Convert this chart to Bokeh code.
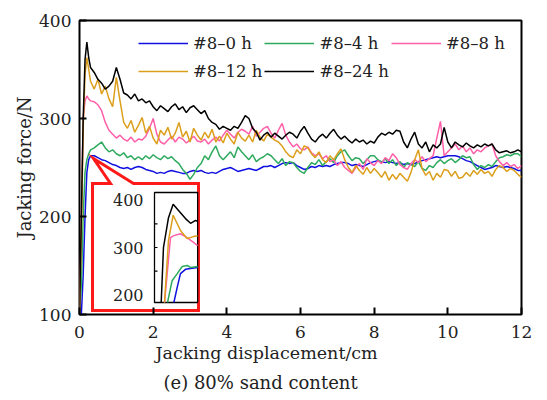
from bokeh.plotting import figure
from bokeh.models import Range1d, Legend, LegendItem, Title, FixedTicker
from bokeh.embed import file_html
from bokeh.resources import INLINE

# ---------------- data ----------------
x_disp = [0.0, 0.05, 0.1, 0.15, 0.2, 0.25, 0.3] + [round(0.4 + 0.1 * i, 1) for i in range(117)]

force_0h = [100, 100, 140, 200, 245, 258, 262,
            262, 260, 258, 257, 255, 253, 252,
            250, 249, 250, 248, 250, 251, 250, 248, 247, 246,
            244, 245, 244, 246, 247, 246, 245, 244, 244, 246,
            247, 246, 247, 245, 244, 245, 244, 246, 248, 249,
            250, 248, 246, 247, 248, 249, 248, 247, 249, 251,
            251, 252, 250, 252, 254, 255, 254, 255, 252, 250,
            248, 249, 251, 250, 252, 251, 252, 251, 253, 254,
            255, 255, 254, 252, 253, 252, 251, 253, 255, 256,
            257, 256, 255, 256, 255, 254, 255, 253, 254, 253,
            254, 256, 257, 258, 259, 260, 261, 260, 261, 262,
            262, 262, 261, 259, 257, 256, 254, 252, 250, 248,
            249, 250, 252, 251, 250, 251, 250, 249, 247, 247]

force_4h = [100, 130, 200, 245, 258, 264, 268,
            270, 273, 276, 270, 266, 268, 264,
            262, 265, 260, 262, 258, 261, 258, 262, 259, 263,
            260, 258, 262, 259, 261, 257, 254, 248, 244, 238,
            243, 250, 254, 262, 258, 266, 272, 262, 258, 262,
            266, 260, 271, 266, 262, 258, 263, 256, 259, 261,
            264, 262, 258, 254, 259, 252, 256, 255, 250, 246,
            244, 250, 255, 253, 258, 252, 256, 259, 255, 262,
            266, 268, 262, 257, 260, 259, 254, 258, 262, 262,
            258, 255, 259, 254, 258, 252, 256, 250, 255, 253,
            251, 256, 249, 247, 252, 250, 255, 258, 254, 257,
            259, 255, 258, 262, 260, 261, 253, 248, 252, 250,
            253, 251, 256, 260, 261, 263, 262, 264, 264, 261]

force_8h = [100, 200, 300, 318, 323, 320, 318,
            317, 314, 308, 296, 288, 284, 280,
            283, 279, 277, 281, 276, 279, 278, 282, 290, 300,
            284, 276, 274, 278, 282, 276, 281, 279, 275, 278,
            282, 277, 276, 279, 274, 278, 281, 277, 283, 288,
            284, 280, 286, 289, 287, 284, 292, 282, 286, 290,
            292, 285, 280, 288, 295, 283, 276, 271, 274, 269,
            268, 271, 265, 262, 264, 259, 262, 256, 258, 252,
            256, 250, 247, 244, 250, 254, 248, 259, 255, 252,
            257, 254, 260, 257, 264, 260, 253, 250, 248, 254,
            258, 255, 261, 256, 259, 262, 280, 297, 262, 266,
            270, 274, 268, 272, 266, 270, 264, 268, 266, 270,
            272, 274, 262, 256, 252, 255, 251, 253, 249, 252]

force_12h = [100, 180, 290, 345, 362, 350, 338,
             330, 340, 325, 333, 320, 312, 342,
             318, 296, 290, 298, 286, 293, 301, 285, 292, 280,
             274, 288, 283, 291, 279, 285, 296, 281, 287, 276,
             290, 283, 278, 286, 280, 289, 276, 282, 275, 285,
             279, 274, 286, 280, 277, 283, 276, 288, 281, 277,
             284, 281, 278, 276, 272, 266, 262, 260, 268, 264,
             272, 270, 264, 260, 266, 258, 255, 262, 258, 264,
             269, 258, 250, 245, 252, 247, 243, 250, 244, 249,
             245, 240, 246, 237, 243, 238, 244, 240, 236, 245,
             258, 268, 249, 242, 246, 237, 244, 240, 248, 247,
             241, 246, 239, 240, 245, 241, 247, 243, 248, 244,
             246, 241, 248, 252, 250, 246, 249, 247, 243, 240]

force_24h = [100, 200, 300, 360, 378, 362, 352,
             347, 340, 336, 330, 333, 338, 352,
             340, 326, 324, 320, 325, 318, 320, 316, 318, 312,
             308, 313, 310, 307, 312, 315, 309, 312, 306, 311,
             313, 309, 305, 308, 300, 296, 294, 289, 292, 290,
             288, 292, 290, 296, 303, 300, 290, 286, 278, 283,
             286, 281, 285, 282, 279, 283, 286, 284, 280, 287,
             292, 285, 279, 276, 281, 284, 280, 285, 289, 283,
             279, 282, 278, 275, 279, 276, 278, 274, 277, 275,
             281, 285, 283, 286, 284, 288, 287, 276, 270, 279,
             286, 274, 270, 276, 266, 273, 270, 274, 291, 276,
             270, 276, 273, 271, 275, 272, 270, 273, 271, 274,
             272, 274, 268, 265, 266, 267, 265, 266, 268, 266]

# inset (zoom of the first 0.5 cm)
ins_0h_x = [0.22, 0.258, 0.295, 0.352, 0.428, 0.49]
ins_0h_y = [184, 216, 245, 254, 256, 258]
ins_4h_x = [0.148, 0.2, 0.258, 0.315, 0.37, 0.41, 0.49]
ins_4h_y = [184, 230, 245, 260, 262, 258, 260]
ins_8h_x = [0.114, 0.182, 0.22, 0.295, 0.37, 0.443, 0.49]
ins_8h_y = [184, 321, 325, 329, 321, 311, 304]
ins_12h_x = [0.114, 0.159, 0.212, 0.295, 0.37, 0.443, 0.49]
ins_12h_y = [184, 315, 368, 336, 319, 323, 325]
ins_24h_x = [0.076, 0.102, 0.159, 0.212, 0.273, 0.352, 0.41, 0.466, 0.49]
ins_24h_y = [184, 300, 363, 391, 378, 361, 351, 357, 355]

labels = ["#8\u20130 h", "#8\u20134 h", "#8\u20138 h", "#8\u201312 h", "#8\u201324 h"]
colors = ["#1010e0", "#2eaa5e", "#ff5fa8", "#dc9f1c", "#000000"]
x_ticks = [0, 2, 4, 6, 8, 10, 12]
y_ticks = [100, 200, 300, 400]
inset_ticks = [200, 300, 400]

FONT = "DejaVu Serif"
TXT = "#222222"

# ---------------- layout (pixels) ----------------
W, H = 547, 400
FL, FR, FT, FB = 79, 521, 20, 314
X0, X1, Y0, Y1 = 0, 12, 100, 400

p = figure(width=W, height=H, x_range=Range1d(X0, X1), y_range=Range1d(Y0, Y1),
           output_backend="svg", toolbar_location=None,
           min_border_left=FL, min_border_right=W - FR,
           min_border_top=FT, min_border_bottom=H - FB)
p.background_fill_color = "white"
p.border_fill_color = "white"
p.grid.visible = False
p.outline_line_color = "black"
p.outline_line_width = 2
p.outline_line_alpha = 1.0

for ax in (p.xaxis[0], p.yaxis[0]):
    ax.axis_line_color = None
    ax.major_tick_in = 7
    ax.major_tick_out = 0
    ax.major_tick_line_width = 2
    ax.minor_tick_line_color = None
    ax.major_label_text_font = FONT
    ax.major_label_text_font_size = "17px"
    ax.major_label_text_color = TXT
    ax.axis_label_text_font = FONT
    ax.axis_label_text_font_size = "18px"
    ax.axis_label_text_font_style = "normal"
    ax.axis_label_text_color = TXT
p.xaxis.ticker = FixedTicker(ticks=x_ticks)
p.yaxis.ticker = FixedTicker(ticks=y_ticks)
p.yaxis.axis_label = "Jacking force/N"
p.xaxis.major_label_standoff = 11
p.yaxis.major_label_standoff = 8
p.yaxis.axis_label_standoff = 1

series = [force_0h, force_4h, force_8h, force_12h, force_24h]
renderers = []
for ys, c in zip(series, colors):
    renderers.append(p.line(x_disp, ys, line_color=c, line_width=1.5))

# ---------------- inset callout ----------------
def fx(px):
    return X0 + (px - FL) * (X1 - X0) / (FR - FL)

def fy(py):
    return Y1 - (py - FT) * (Y1 - Y0) / (FB - FT)

call_px = [(92, 310), (92, 183), (110, 183), (93, 158), (133, 183), (198, 183), (198, 310)]
p.patch([fx(a) for a, b in call_px], [fy(b) for a, b in call_px],
        fill_color="white", line_color="#ff1a1a", line_width=3, line_join="miter")

# inset frame px and its own scale
IL, IR, IT, IB = 154, 198, 192, 302
IX_LO, IX_HI = 0.0, 0.5
IY_LO, IY_HI = 184, 416
sx = (IX_HI - IX_LO) / (IR - IL)
sy = (IY_HI - IY_LO) / (IB - IT)
p.extra_x_ranges = {"ix": Range1d(IX_LO - (IL - FL) * sx, IX_HI + (FR - IR) * sx)}
p.extra_y_ranges = {"iy": Range1d(IY_LO - (FB - IB) * sy, IY_HI + (IT - FT) * sy)}

p.quad(left=[IX_LO], right=[0.49], bottom=[IY_LO], top=[IY_HI], fill_color=None,
       line_color="black", line_width=1.3, x_range_name="ix", y_range_name="iy")
p.segment(x0=[IX_LO] * 3, x1=[IX_LO + 3 * sx] * 3, y0=[250, 300, 350], y1=[250, 300, 350],
          line_color="black", line_width=1.2, x_range_name="ix", y_range_name="iy")
ins = [(ins_0h_x, ins_0h_y), (ins_4h_x, ins_4h_y), (ins_8h_x, ins_8h_y),
       (ins_12h_x, ins_12h_y), (ins_24h_x, ins_24h_y)]
for (xs, ys), c in zip(ins, colors):
    p.line(xs, ys, line_color=c, line_width=1.5, x_range_name="ix", y_range_name="iy")
p.text(x=[IX_LO] * 3, y=inset_ticks, text=[str(t) for t in inset_ticks],
       x_offset=-11, text_align="right", text_baseline="middle",
       text_font={"value": FONT}, text_font_size="16px", text_color=TXT,
       x_range_name="ix", y_range_name="iy")

# ---------------- legend (two rows: 0h 4h 8h / 12h 24h) ----------------
order = [0, 3, 1, 4, 2]   # column-major fill
legend = Legend(items=[LegendItem(label=labels[i], renderers=[renderers[i]]) for i in order],
                nrows=2, location=(59, 230))
legend.label_text_font = FONT
legend.label_text_font_size = "16.5px"
legend.label_text_color = TXT
legend.glyph_width = 50
legend.glyph_height = 26
legend.label_height = 26
legend.label_standoff = 5
legend.spacing = 2
legend.padding = 0
legend.margin = 0
legend.border_line_color = None
legend.background_fill_alpha = 0
p.add_layout(legend)

p.add_layout(Title(text="Jacking displacement/cm", align="left", offset=76, standoff=1,
                   text_font=FONT, text_font_size="17.5px", text_font_style="normal",
                   text_color=TXT), "below")
p.add_layout(Title(text="(e) 80% sand content", align="left", offset=84, standoff=12,
                   text_font=FONT, text_font_size="18px", text_font_style="normal",
                   text_color=TXT), "below")

open("out.html", "w").write(file_html(p, INLINE))
